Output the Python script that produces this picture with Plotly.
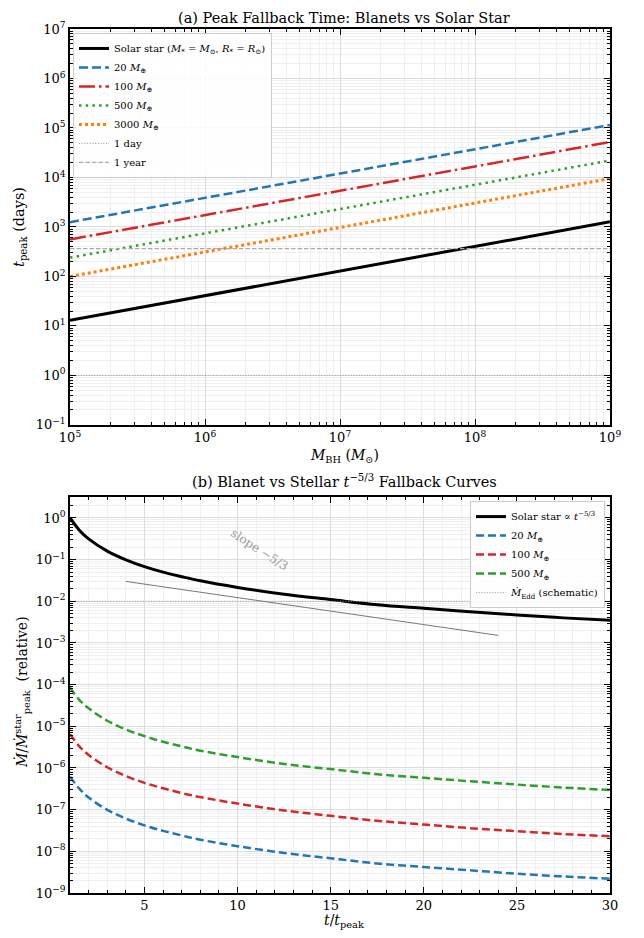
import plotly.graph_objects as go

# ---------------- data: panel (a) ----------------
m_bh = [1e5, 1e6, 1e7, 1e8, 1e9]
t_solar = [13, 41, 130, 410, 1270]
t_20 = [1250, 3900, 12000, 37000, 115000]
t_100 = [560, 1720, 5300, 16700, 52000]
t_500 = [240, 740, 2300, 7200, 22000]
t_3000 = [100, 310, 960, 3000, 9500]
one_day = 1
one_year = 365

# ---------------- data: panel (b) ----------------
t_rel = [1, 1.5, 2, 3, 4, 5, 6, 7, 8, 10, 12.5, 15, 17.5, 20, 22.5, 25, 27.5, 30]
md_star = [1.0, 0.51, 0.315, 0.16, 0.099, 0.068, 0.050, 0.039, 0.031, 0.0215,
           0.0147, 0.011, 0.0083, 0.0068, 0.0056, 0.0047, 0.0040, 0.0035]
md_20 = [6.2e-7, 3.2e-7, 1.95e-7, 9.9e-8, 6.1e-8, 4.2e-8, 3.1e-8, 2.4e-8, 1.9e-8,
         1.33e-8, 9.1e-9, 6.8e-9, 5.1e-9, 4.2e-9, 3.5e-9, 2.9e-9, 2.5e-9, 2.2e-9]
md_100 = [6.5e-6, 3.3e-6, 2.05e-6, 1.04e-6, 6.4e-7, 4.4e-7, 3.25e-7, 2.5e-7, 2.0e-7,
          1.4e-7, 9.6e-8, 7.1e-8, 5.4e-8, 4.4e-8, 3.6e-8, 3.05e-8, 2.6e-8, 2.3e-8]
md_500 = [8.5e-5, 4.3e-5, 2.7e-5, 1.36e-5, 8.4e-6, 5.8e-6, 4.25e-6, 3.3e-6, 2.6e-6,
          1.83e-6, 1.25e-6, 9.4e-7, 7.1e-7, 5.8e-7, 4.8e-7, 4.0e-7, 3.4e-7, 2.95e-7]
md_edd = 0.01
slope_t = [4, 24]
slope_md = [0.03, 0.00152]

# tick labels
xa_tickvals = [1e5, 1e6, 1e7, 1e8, 1e9]
xa_ticktext = ["10<sup>5</sup>", "10<sup>6</sup>", "10<sup>7</sup>", "10<sup>8</sup>", "10<sup>9</sup>"]
ya_exps = [-1, 0, 1, 2, 3, 4, 5, 6, 7]
yb_exps = [-9, -8, -7, -6, -5, -4, -3, -2, -1, 0]
xb_tickvals = [5, 10, 15, 20, 25, 30]

def pow_label(e):
    return "10<sup>" + (("\u2212" + str(-e)) if e < 0 else str(e)) + "</sup>"

FONT = "DejaVu Serif, serif"
BLUE, RED, GREEN, ORANGE = "#1f77b4", "#d62728", "#2ca02c", "#ff7f0e"
GRAY = "#9a9a9a"

fig = go.Figure()

# panel (a)
fig.add_trace(go.Scatter(x=m_bh, y=t_solar, mode="lines", legend="legend",
                         line=dict(color="black", width=3),
                         name="Solar star (<i>M</i><sub>*</sub> = <i>M</i><sub>\u2299</sub>, <i>R</i><sub>*</sub> = <i>R</i><sub>\u2299</sub>)"))
fig.add_trace(go.Scatter(x=m_bh, y=t_20, mode="lines", legend="legend",
                         line=dict(color=BLUE, width=2.5, dash="9px,4px"),
                         name="20 <i>M</i><sub>\u2295</sub>"))
fig.add_trace(go.Scatter(x=m_bh, y=t_100, mode="lines", legend="legend",
                         line=dict(color=RED, width=2.5, dash="16px,4px,2.5px,4px"),
                         name="100 <i>M</i><sub>\u2295</sub>"))
fig.add_trace(go.Scatter(x=m_bh, y=t_500, mode="lines", legend="legend",
                         line=dict(color=GREEN, width=2.5, dash="2.5px,4.2px"),
                         name="500 <i>M</i><sub>\u2295</sub>"))
fig.add_trace(go.Scatter(x=m_bh, y=t_3000, mode="lines", legend="legend",
                         line=dict(color=ORANGE, width=3, dash="3px,3px"),
                         name="3000 <i>M</i><sub>\u2295</sub>"))
fig.add_trace(go.Scatter(x=[m_bh[0], m_bh[-1]], y=[one_day, one_day], mode="lines", legend="legend",
                         line=dict(color=GRAY, width=1, dash="1px,1.7px"), name="1 day"))
fig.add_trace(go.Scatter(x=[m_bh[0], m_bh[-1]], y=[one_year, one_year], mode="lines", legend="legend",
                         line=dict(color="#aaaaaa", width=1.2, dash="4.5px,2px"), name="1 year"))

# panel (b)
fig.add_trace(go.Scatter(x=t_rel, y=md_star, mode="lines", xaxis="x2", yaxis="y2", legend="legend2",
                         line=dict(color="black", width=3, shape="spline"),
                         name="Solar star \u221d <i>t</i><sup>\u22125/3</sup>"))
fig.add_trace(go.Scatter(x=t_rel, y=md_20, mode="lines", xaxis="x2", yaxis="y2", legend="legend2",
                         line=dict(color=BLUE, width=2.5, dash="8px,4px", shape="spline"),
                         name="20 <i>M</i><sub>\u2295</sub>"))
fig.add_trace(go.Scatter(x=t_rel, y=md_100, mode="lines", xaxis="x2", yaxis="y2", legend="legend2",
                         line=dict(color=RED, width=2.5, dash="8px,4px", shape="spline"),
                         name="100 <i>M</i><sub>\u2295</sub>"))
fig.add_trace(go.Scatter(x=t_rel, y=md_500, mode="lines", xaxis="x2", yaxis="y2", legend="legend2",
                         line=dict(color=GREEN, width=2.5, dash="8px,4px", shape="spline"),
                         name="500 <i>M</i><sub>\u2295</sub>"))
fig.add_trace(go.Scatter(x=[1, 30], y=[md_edd, md_edd], mode="lines", xaxis="x2", yaxis="y2", legend="legend2",
                         line=dict(color=GRAY, width=1, dash="1px,1.7px"),
                         name="<i>\u1e40</i><sub>Edd</sub> (schematic)"))
fig.add_trace(go.Scatter(x=slope_t, y=slope_md, mode="lines", xaxis="x2", yaxis="y2",
                         line=dict(color="#777777", width=1), showlegend=False))

def minor_log(e0, e1):
    return [k * 10 ** e for e in range(e0, e1) for k in range(2, 10)]

common = dict(showline=True, linecolor="black", linewidth=1.5, mirror="allticks",
              ticks="inside", ticklen=6, tickwidth=1.2, tickcolor="black",
              showgrid=True, gridcolor="#dcdcdc", gridwidth=0.8, zeroline=False,
              tickfont=dict(family=FONT, size=13, color="black"))

# page body has an 8px margin; compensate so plot areas land where intended
fig.update_layout(
    width=644, height=938,
    margin=dict(l=62, r=42, t=12, b=53),
    paper_bgcolor="white", plot_bgcolor="white",
    font=dict(family=FONT, size=11, color="black"),
    xaxis=dict(type="log", range=[5, 9], domain=[0, 1], anchor="y",
               tickmode="array", tickvals=xa_tickvals, ticktext=xa_ticktext,
               minor=dict(tickmode="array", tickvals=minor_log(5, 9), ticks="inside", ticklen=3,
                          tickcolor="black", showgrid=True, gridcolor="#efefef", gridwidth=0.7),
               **common),
    yaxis=dict(type="log", range=[-1, 7], domain=[0.5418, 1], anchor="x",
               tickmode="array", tickvals=[10 ** e for e in ya_exps],
               ticktext=[pow_label(e) for e in ya_exps],
               minor=dict(tickmode="array", tickvals=minor_log(-1, 7), ticks="inside", ticklen=3,
                          tickcolor="black", showgrid=True, gridcolor="#efefef", gridwidth=0.7),
               **common),
    xaxis2=dict(type="linear", range=[1, 30], domain=[0, 1], anchor="y2",
                tickmode="array", tickvals=xb_tickvals,
                minor=dict(dtick=1, tick0=0, ticks="inside", ticklen=3, tickcolor="black",
                           showgrid=True, gridcolor="#efefef", gridwidth=0.7),
                **common),
    yaxis2=dict(type="log", range=[-9, 0.5], domain=[0, 0.4582], anchor="x2",
                tickmode="array", tickvals=[10 ** e for e in yb_exps],
                ticktext=[pow_label(e) for e in yb_exps],
                minor=dict(tickmode="array", tickvals=minor_log(-9, 1), ticks="inside", ticklen=3,
                           tickcolor="black", showgrid=True, gridcolor="#efefef", gridwidth=0.7),
                **common),
    legend=dict(x=(73 - 70) / 540, y=1 - 4 / 873, xanchor="left", yanchor="top",
                bgcolor="rgba(255,255,255,0.85)", bordercolor="#cccccc", borderwidth=1,
                font=dict(family=FONT, size=10), tracegroupgap=0),
    legend2=dict(x=(605 - 70) / 540, y=(893 - 497) / 873, xanchor="right", yanchor="top",
                 bgcolor="rgba(255,255,255,0.85)", bordercolor="#cccccc", borderwidth=1,
                 font=dict(family=FONT, size=10), tracegroupgap=0),
)

def ypaper(py):
    return (893 - py) / 873

def xpaper(px):
    return (px - 70) / 540

annos = [
    dict(text="(a) Peak Fallback Time: Blanets vs Solar Star", x=xpaper(344), y=ypaper(9), size=14.5, angle=0),
    dict(text="(b) Blanet vs Stellar <i>t</i><sup>\u22125/3</sup> Fallback Curves", x=xpaper(344), y=ypaper(477), size=14.5, angle=0),
    dict(text="<i>M</i><sub>BH</sub> (<i>M</i><sub>\u2299</sub>)", x=xpaper(344), y=ypaper(451), size=14, angle=0),
    dict(text="<i>t</i>/<i>t</i><sub>peak</sub>", x=xpaper(344), y=ypaper(921), size=14, angle=0),
    dict(text="<i>t</i><sub>peak</sub> (days)", x=xpaper(20), y=ypaper(220), size=14.5, angle=-90),
    dict(text="<i>\u1e40</i>/<i>\u1e40</i><sup>star</sup><sub>peak</sub>  (relative)", x=xpaper(22), y=ypaper(690), size=14, angle=-90),
]
for a in annos:
    fig.add_annotation(text=a["text"], x=a["x"], y=a["y"], xref="paper", yref="paper",
                       showarrow=False, xanchor="center", yanchor="middle", textangle=a["angle"],
                       font=dict(family=FONT, size=a["size"], color="black"))

fig.add_annotation(text="slope \u22125/3", x=11.2, y=-0.76, xref="x2", yref="y2",
                   showarrow=False, textangle=33, font=dict(family=FONT, size=12, color="#999999"))

fig.write_html("out.html")
